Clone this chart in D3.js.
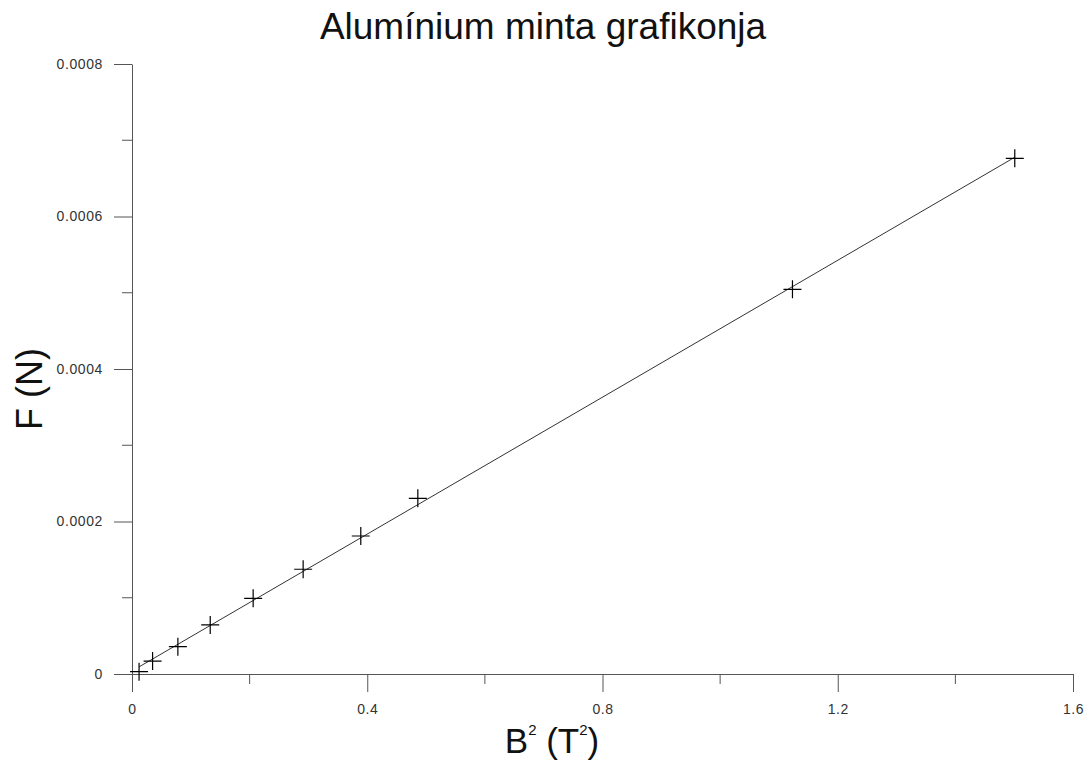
<!DOCTYPE html>
<html>
<head>
<meta charset="utf-8">
<script src="https://cdn.jsdelivr.net/npm/d3@7"></script>
<style>
  body { margin: 0; background: #fff; }
  text { font-family: "Liberation Sans", Arial, sans-serif; }
</style>
</head>
<body>
<div id="chart"></div>
<script>
// B^2 (T^2) and F (N)
const bSquared = [0.012, 0.035, 0.078, 0.133, 0.206, 0.291, 0.389, 0.486, 1.123, 1.501];
const force = [0.000003, 0.000017, 0.0000358, 0.0000643, 0.0000993, 0.0001374, 0.000181, 0.0002304, 0.0005045, 0.0006763];
const xTicks = [0, 0.4, 0.8, 1.2, 1.6];
const xMinor = [0.2, 0.6, 1.0, 1.4];
const yTicks = [0, 0.0002, 0.0004, 0.0006, 0.0008];
const yMinor = [0.0001, 0.0003, 0.0005, 0.0007];

const width = 1085, height = 763;
const margin = { top: 64, right: 12, bottom: 89, left: 132 };

const svg = d3.select('#chart').append('svg').attr('width', width).attr('height', height);

const x = d3.scaleLinear().domain([0, 1.6]).range([margin.left, 1073]);
const y = d3.scaleLinear().domain([0, 0.0008]).range([674, margin.top]);

const axisColor = '#555';

// x axis
const gx = svg.append('g').attr('transform', `translate(0, ${y(0)})`);
gx.call(d3.axisBottom(x).tickValues(xTicks).tickSize(18).tickPadding(12)
  .tickFormat(d => d === 0 ? '0' : d3.format('.1f')(d)).tickSizeOuter(0));
gx.append('g').selectAll('line').data(xMinor).enter().append('line')
  .attr('x1', d => x(d)).attr('x2', d => x(d)).attr('y1', 0).attr('y2', 10);
// y axis
const gy = svg.append('g').attr('transform', `translate(${x(0)}, 0)`);
gy.call(d3.axisLeft(y).tickValues(yTicks).tickSize(18).tickPadding(11)
  .tickFormat(d => d === 0 ? '0' : d3.format('.4f')(d)).tickSizeOuter(0));
gy.append('g').selectAll('line').data(yMinor).enter().append('line')
  .attr('y1', d => y(d)).attr('y2', d => y(d)).attr('x1', 0).attr('x2', -10);

[gx, gy].forEach(g => {
  g.select('.domain').attr('stroke', axisColor);
  g.selectAll('line').attr('stroke', axisColor);
  g.selectAll('text').attr('fill', '#333').style('font-size', '14px').style('letter-spacing', '0.6px');
});

// least-squares line through the points
const n = bSquared.length;
const mx = d3.mean(bSquared), my = d3.mean(force);
const slope = d3.sum(bSquared, (v, i) => (v - mx) * (force[i] - my)) / d3.sum(bSquared, v => (v - mx) ** 2);
const intercept = my - slope * mx;
const xr = d3.extent(bSquared);
svg.append('line')
  .attr('x1', x(xr[0])).attr('y1', y(intercept + slope * xr[0]))
  .attr('x2', x(xr[1])).attr('y2', y(intercept + slope * xr[1]))
  .attr('stroke', '#333').attr('stroke-width', 1);

// plus markers
const pts = d3.range(n).map(i => ({ bx: bSquared[i], f: force[i] }));
const cross = 9;
const mk = svg.append('g').attr('stroke', '#000').attr('stroke-width', 1.2);
mk.selectAll('path').data(pts).enter().append('path')
  .attr('d', d => `M${x(d.bx) - cross},${y(d.f)}H${x(d.bx) + cross}M${x(d.bx)},${y(d.f) - cross}V${y(d.f) + cross}`);

// title and axis labels
svg.append('text').attr('x', 543).attr('y', 39).attr('text-anchor', 'middle')
  .style('font-size', '37px').attr('fill', '#111').text('Alumínium minta grafikonja');

const xl = svg.append('text').attr('x', 552).attr('y', 753).attr('text-anchor', 'middle')
  .style('font-size', '35px').attr('fill', '#111');
xl.append('tspan').text('B');
xl.append('tspan').attr('dy', -18).style('font-size', '15px').text('2');
xl.append('tspan').attr('dy', 18).text(' (T');
xl.append('tspan').attr('dy', -18).style('font-size', '15px').text('2');
xl.append('tspan').attr('dy', 18).text(')');

svg.append('text').attr('transform', 'translate(42, 389) rotate(-90)').attr('text-anchor', 'middle')
  .style('font-size', '36px').attr('fill', '#111').text('F (N)');
</script>
</body>
</html>
